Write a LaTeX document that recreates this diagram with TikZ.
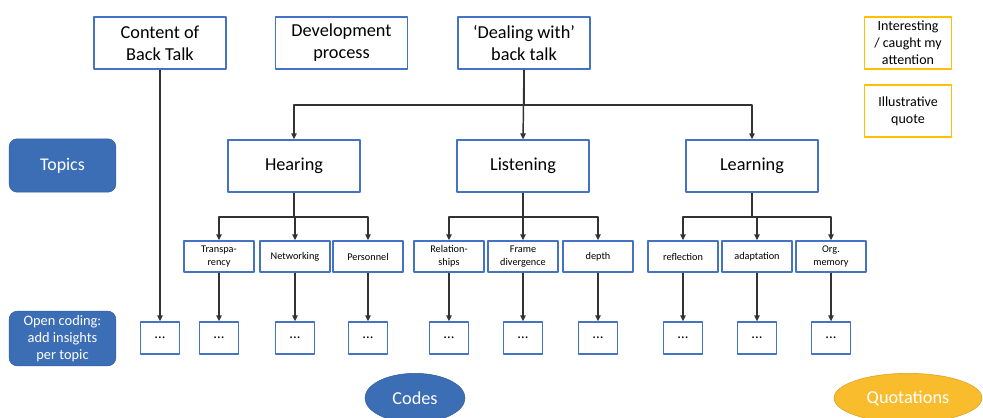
\documentclass[tikz,border=0pt]{standalone}
\usepackage{fontspec}
\setmainfont{Carlito}
\usetikzlibrary{arrows.meta,shapes.geometric}

\begin{document}
\begin{tikzpicture}[x=0.75pt, y=-0.75pt, line join=round,
      >={Triangle[length=4.5pt,width=4pt]},
      every node/.style={inner sep=1pt, align=center},
      mainbox/.style={draw=boxBlue, line width=0.9pt, fill=white,
        minimum width=99pt, minimum height=39pt,
        font=\fontsize{13.7}{16.5}\selectfont},
      subbox/.style={draw=boxBlue, line width=0.9pt, fill=white,
        minimum width=52.5pt, minimum height=23.3pt,
        font=\fontsize{7.7}{9.6}\selectfont},
      dotbox/.style={draw=boxBlue, line width=0.9pt, fill=white,
        minimum width=29.3pt, minimum height=24pt,
        font=\fontsize{11}{12}\selectfont},
      notebox/.style={draw=noteGold, line width=0.9pt, fill=white,
        minimum width=65pt, minimum height=39pt,
        font=\fontsize{10.5}{12.8}\selectfont},
      stagebox/.style={draw=stageBlue!85!black, fill=stageBlue, text=white,
        rounded corners=6pt, minimum width=80pt, minimum height=40pt},
      tagoval/.style={ellipse, inner sep=0pt, minimum height=37pt,
        font=\fontsize{13.7}{16.5}\selectfont, text=white},
      link/.style={->, draw=black!80, line width=1.1pt}]
    \definecolor{boxBlue}{RGB}{68,114,196}
    \definecolor{stageBlue}{RGB}{60,110,182}
    \definecolor{noteGold}{RGB}{255,192,0}
    \definecolor{quoteGold}{RGB}{249,188,45}
    \useasboundingbox (0,0) rectangle (983,418);
    % ==== top row: three themes ====
    \node[mainbox] (cont) at (160,43) {Content of\\Back Talk};
    \node[mainbox] (dev) at (341.5,43) {Development\\process};
    \node[mainbox] (deal) at (524,43) {‘Dealing with’\\back talk};
    % ==== legend (right) ====
    \node[notebox] (intr) at (908,43) {Interesting\\/ caught my\\attention};
    \node[notebox] (illu) at (908,111) {Illustrative\\quote};
    % ==== row labels (left) ====
    \node[stagebox, font=\fontsize{13.4}{16}\selectfont] (topics) at (62.5,165.5) {Topics};
    \node[stagebox, minimum height=41pt, font=\fontsize{10.8}{13}\selectfont]
      (opencod) at (62.5,338.5) {Open coding:\\add insights\\per topic};
    % ==== topics ====
    \node[mainbox] (hear) at (294,166) {Hearing};
    \node[mainbox] (lstn) at (523,166) {Listening};
    \node[mainbox] (lrn) at (752,166) {Learning};
    \coordinate (topbar) at (524,105);
    \draw[link,-] (deal.south) -- (topbar);
    \draw[link] (topbar) -| (hear.north);
    \draw[link] (topbar) -| (lrn.north);
    \draw[link] (deal.south) -- (lstn.north);
    % ==== sub-topics ====
    \node[subbox] (transp) at (219,256.5) {Transpa-\\rency};
    \node[subbox] (netw) at (295,256.5) {Networking};
    \node[subbox] (pers) at (368,256.5) {Personnel};
    \node[subbox] (rel) at (449,256.5) {Relation-\\ships};
    \node[subbox] (frame) at (523,256.5) {Frame\\divergence};
    \node[subbox] (depth) at (598,256.5) {depth};
    \node[subbox] (refl) at (683,256.5) {reflection};
    \node[subbox] (adapt) at (757,256.5) {adaptation};
    \node[subbox] (orgm) at (831,256.5) {Org.\\memory};
    \foreach \tp/\subs in {hear/{transp,netw,pers}, lstn/{rel,frame,depth},
        lrn/{refl,adapt,orgm}}{
      \coordinate (\tp bar) at (\tp.south |- 0,217);
      \draw[link,-] (\tp.south) -- (\tp bar);
      \foreach \s in \subs
        \draw[link] (\tp bar) -| (\s.north);
    }
    % ==== open codes ====
    \foreach \s in {cont,transp,netw,pers,rel,frame,depth,refl,adapt,orgm}{
      \node[dotbox] (dots\s) at (\s.south |- 0,338) {...};
      \draw[link] (\s.south) -- (dots\s.north);
    }
    % ==== bottom tags ====
    \node[tagoval, fill=stageBlue, draw=stageBlue!85!black, minimum width=75pt]
      (codes) at (415,398) {Codes};
    \node[tagoval, fill=quoteGold, draw=quoteGold!85!black, minimum width=111pt]
      (quot) at (908,398) {Quotations};
  \end{tikzpicture}
\end{document}
